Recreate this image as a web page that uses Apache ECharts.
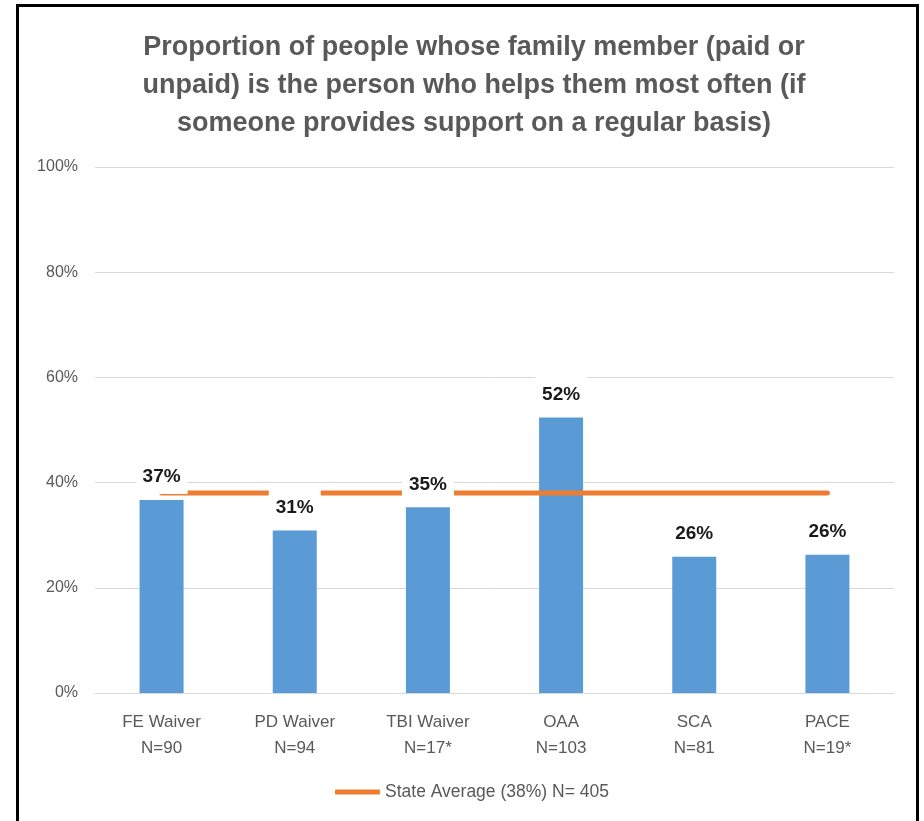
<!DOCTYPE html>
<html>
<head>
<meta charset="utf-8">
<title>Family member as primary helper</title>
<script src="https://cdn.jsdelivr.net/npm/echarts@6/dist/echarts.min.js"></script>
<style>
  html, body { margin: 0; padding: 0; background: #fff; }
  #chart { width: 924px; height: 821px; }
</style>
</head>
<body>
<div id="chart"></div>
<script>
// Programs and sample sizes (two-line axis labels)
const programs = ['FE Waiver', 'PD Waiver', 'TBI Waiver', 'OAA', 'SCA', 'PACE'];
const sampleSizes = ['N=90', 'N=94', 'N=17*', 'N=103', 'N=81', 'N=19*'];

// Share of people whose family member is the main helper (%)
const familyHelperPct = [36.7, 30.9, 35.3, 52.4, 25.9, 26.3];

// Statewide average (%)
const stateAveragePct = 38;
const stateAverageName = 'State Average (38%) N= 405';

// Y axis ticks
const yTicks = [0, 20, 40, 60, 80, 100];

const categories = programs.map((p, i) => p + '\n' + sampleSizes[i]);
const stateLine = programs.map(() => stateAveragePct);

const FONT = '"Liberation Sans", Arial, sans-serif';
const GREY = '#595959';

const chart = echarts.init(document.getElementById('chart'), null, { renderer: 'canvas' });

chart.setOption({
  animation: false,
  backgroundColor: '#ffffff',
  title: {
    text: 'Proportion of people whose family member (paid or\nunpaid) is the person who helps them most often (if\nsomeone provides support on a regular basis)',
    left: 469,
    top: 24,
    textAlign: 'center',
    textStyle: {
      fontFamily: FONT,
      fontWeight: 'bold',
      fontSize: 27,
      lineHeight: 38,
      color: GREY
    }
  },
  graphic: [{
    type: 'rect',
    silent: true,
    z: 100,
    shape: { x: 17.5, y: 5.5, width: 900, height: 900 },
    style: { fill: 'none', stroke: '#000', lineWidth: 3 }
  }],
  legend: {
    bottom: 15,
    left: 330,
    itemWidth: 45,
    itemHeight: 5,
    textStyle: { fontFamily: FONT, fontSize: 17.5, color: GREY },
    data: [{ name: stateAverageName, icon: 'roundRect' }]
  },
  grid: { left: 95, right: 30, top: 167, bottom: 128 },
  xAxis: {
    type: 'category',
    data: categories,
    axisLine: { lineStyle: { color: '#D9D9D9', width: 1 } },
    axisTick: { show: false },
    axisLabel: {
      fontFamily: FONT,
      fontSize: 17,
      lineHeight: 26,
      color: GREY,
      margin: 16,
      interval: 0
    }
  },
  yAxis: {
    type: 'value',
    min: yTicks[0],
    max: yTicks[yTicks.length - 1],
    interval: yTicks[1] - yTicks[0],
    axisLine: { show: false },
    axisTick: { show: false },
    splitLine: { lineStyle: { color: '#D9D9D9', width: 1 } },
    axisLabel: {
      fontFamily: FONT,
      fontSize: 16,
      color: GREY,
      margin: 17,
      formatter: '{value}%'
    }
  },
  series: [
    {
      name: 'Family member',
      type: 'bar',
      data: familyHelperPct,
      barWidth: 44,
      z: 2,
      itemStyle: { color: '#5B9BD5' }
    },
    {
      name: stateAverageName,
      type: 'line',
      data: stateLine,
      symbol: 'none',
      z: 3,
      lineStyle: { color: '#ED7D31', width: 5, cap: 'round' },
      itemStyle: { color: '#ED7D31' }
    },
    {
      // value labels, kept above the average line
      name: 'labels',
      type: 'bar',
      data: familyHelperPct,
      barWidth: 44,
      barGap: '-100%',
      z: 4,
      silent: true,
      itemStyle: { color: 'rgba(0,0,0,0)' },
      label: {
        show: true,
        position: 'top',
        distance: 6,
        formatter: p => Math.round(p.value) + '%',
        fontFamily: FONT,
        fontWeight: 'bold',
        fontSize: 19,
        lineHeight: 22,
        color: '#1a1a1a',
        backgroundColor: '#ffffff',
        padding: [9, 7, 6, 7]
      }
    }
  ]
});
</script>
</body>
</html>
